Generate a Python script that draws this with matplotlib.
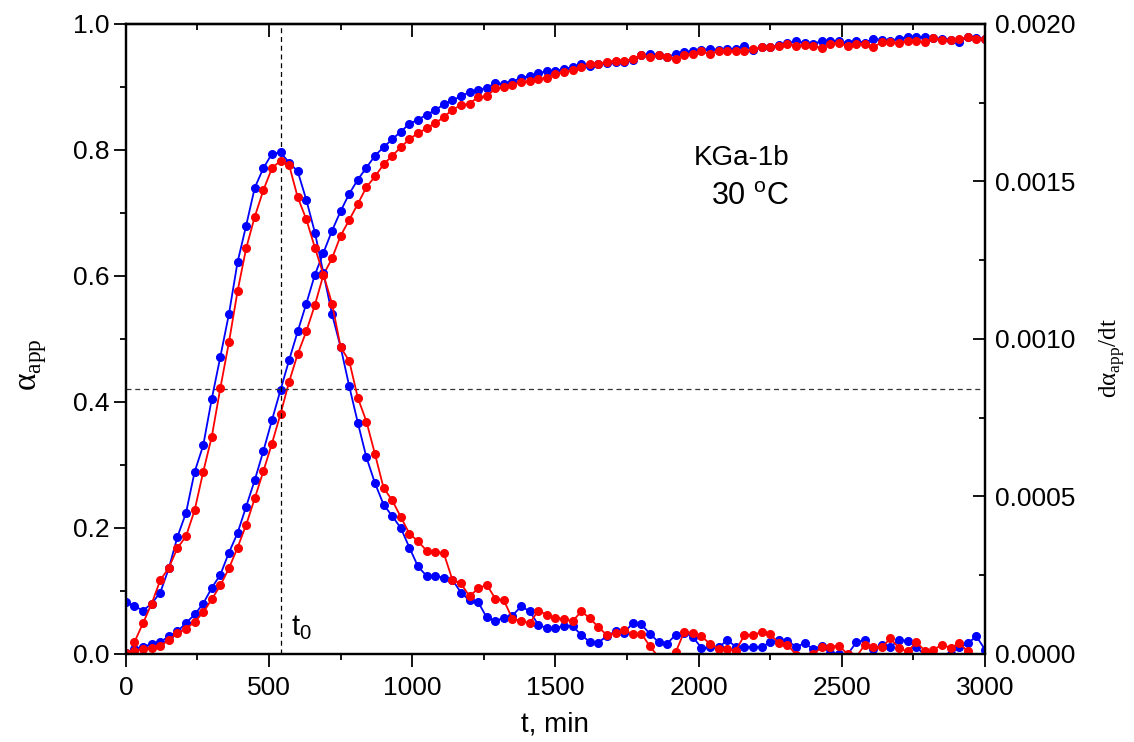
import numpy as np
import matplotlib.pyplot as plt
from matplotlib.ticker import MultipleLocator, FormatStrFormatter

plt.rcParams['font.family'] = ['Liberation Sans', 'DejaVu Sans']
plt.rcParams['mathtext.fontset'] = 'custom'
plt.rcParams['mathtext.rm'] = 'Liberation Serif'
plt.rcParams['mathtext.sf'] = 'Liberation Sans'

# time points, min (every 30 min)
t = np.arange(0, 3001, 30)

# conversion alpha_app, two runs
alpha_blue = [
    0.002, 0.0085, 0.0118, 0.0155, 0.019, 0.028, 0.036, 0.049, 0.0627, 0.080,
    0.105, 0.126, 0.161, 0.192, 0.234, 0.276, 0.322, 0.371, 0.419, 0.4665,
    0.512, 0.556, 0.602, 0.637, 0.672, 0.703, 0.7305, 0.753, 0.772, 0.791,
    0.8045, 0.817, 0.829, 0.8415, 0.848, 0.856, 0.863, 0.8725, 0.879, 0.885,
    0.892, 0.895, 0.899, 0.9056, 0.9046, 0.908, 0.915, 0.917, 0.9217, 0.925,
    0.926, 0.928, 0.932, 0.936, 0.934, 0.936, 0.938, 0.939, 0.940, 0.943,
    0.950, 0.952, 0.951, 0.948, 0.952, 0.956, 0.957, 0.959, 0.960, 0.959,
    0.960, 0.961, 0.9645, 0.959, 0.963, 0.9634, 0.966, 0.970, 0.9725, 0.970,
    0.9687, 0.9725, 0.9735, 0.9725, 0.970, 0.9735, 0.970, 0.9768, 0.974, 0.9735,
    0.9768, 0.9794, 0.979, 0.9797, 0.978, 0.9768, 0.9752, 0.971, 0.980, 0.978,
    0.9768]
alpha_red = [
    0.001, 0.005, 0.0075, 0.010, 0.013, 0.022, 0.033, 0.040, 0.051, 0.066,
    0.087, 0.109, 0.136, 0.169, 0.205, 0.247, 0.290, 0.334, 0.381, 0.432,
    0.476, 0.512, 0.554, 0.602, 0.628, 0.664, 0.689, 0.7145, 0.741, 0.758,
    0.777, 0.791, 0.804, 0.8174, 0.8265, 0.8345, 0.8425, 0.852, 0.864, 0.871,
    0.8736, 0.884, 0.885, 0.8977, 0.900, 0.903, 0.908, 0.909, 0.912, 0.915,
    0.921, 0.923, 0.927, 0.932, 0.936, 0.937, 0.940, 0.942, 0.942, 0.944,
    0.951, 0.947, 0.951, 0.948, 0.945, 0.951, 0.952, 0.9565, 0.952, 0.9575,
    0.9565, 0.9575, 0.9565, 0.960, 0.963, 0.9634, 0.9645, 0.9687, 0.9655, 0.967,
    0.9655, 0.9618, 0.9687, 0.970, 0.9645, 0.968, 0.9687, 0.9634, 0.971, 0.9708,
    0.970, 0.9725, 0.9735, 0.9708, 0.978, 0.9752, 0.974, 0.9768, 0.979, 0.9768,
    0.9768]

# rate d(alpha)/dt in units of 1e-3 1/min
rate_blue = [
    0.165, 0.152, 0.138, 0.160, 0.195, 0.272, 0.372, 0.448, 0.578, 0.662,
    0.810, 0.944, 1.080, 1.244, 1.360, 1.480, 1.542, 1.588, 1.592, 1.560,
    1.532, 1.442, 1.338, 1.208, 1.078, 0.974, 0.850, 0.734, 0.624, 0.542,
    0.474, 0.438, 0.400, 0.338, 0.278, 0.248, 0.248, 0.242, 0.236, 0.195,
    0.170, 0.165, 0.116, 0.106, 0.114, 0.122, 0.151, 0.136, 0.093, 0.082,
    0.082, 0.090, 0.088, 0.061, 0.038, 0.036, 0.058, 0.072, 0.068, 0.098,
    0.094, 0.064, 0.038, 0.033, 0.061, 0.068, 0.054, 0.019, 0.021, 0.021,
    0.044, 0.023, 0.023, 0.021, 0.023, 0.037, 0.044, 0.042, 0.023, 0.034,
    0.016, 0.026, 0.003, 0.000, -0.002, 0.037, 0.044, 0.016, 0.029, 0.023,
    0.044, 0.042, 0.023, -0.004, -0.010, -0.010, 0.000, 0.021, 0.034, 0.056,
    0.014]
rate_red = [
    np.nan, 0.038, 0.098, 0.160, 0.234, 0.274, 0.336, 0.374, 0.456, 0.578,
    0.690, 0.845, 0.990, 1.152, 1.288, 1.388, 1.472, 1.542, 1.566, 1.552,
    1.450, 1.380, 1.290, 1.204, 1.112, 0.974, 0.930, 0.813, 0.738, 0.634,
    0.527, 0.488, 0.435, 0.382, 0.358, 0.328, 0.324, 0.320, 0.236, 0.224,
    0.183, 0.208, 0.220, 0.176, 0.170, 0.111, 0.106, 0.097, 0.138, 0.125,
    0.114, 0.111, 0.104, 0.135, 0.114, 0.085, 0.060, 0.066, 0.076, 0.063,
    0.065, 0.024, -0.010, -0.010, 0.006, 0.071, 0.066, 0.056, 0.032, 0.016,
    0.016, 0.011, 0.060, 0.061, 0.069, 0.063, 0.034, 0.030, -0.002, -0.010,
    0.000, 0.021, 0.023, 0.026, 0.000, -0.010, 0.029, 0.023, 0.021, 0.050,
    0.018, 0.008, 0.037, 0.011, 0.013, 0.030, 0.019, 0.035, 0.008, -0.008,
    -0.008]

t0 = 540
alpha_t0 = 0.42

fig = plt.figure(figsize=(11.34, 7.42), dpi=100)
ax = fig.add_axes([0.111, 0.1186, 0.7576, 0.8491])
ax2 = ax.twinx()

style = dict(marker='o', markersize=5.5, linewidth=1.3)
ax.plot(t, alpha_blue, color='#0000ff', **style)
ax.plot(t, alpha_red, color='#ff0000', **style)
ax2.plot(t, np.array(rate_blue) * 1e-3, color='#0000ff', **style)
ax2.plot(t, np.array(rate_red) * 1e-3, color='#ff0000', **style)

ax.axvline(t0, color='black', linewidth=0.9, dashes=(4, 3))
ax.axhline(alpha_t0, color='#333333', linewidth=0.9, dashes=(4, 3))

ax.set_xlim(0, 3000)
ax.set_ylim(0, 1)
ax2.set_ylim(0, 0.002)

ax.xaxis.set_major_locator(MultipleLocator(500))
ax.xaxis.set_minor_locator(MultipleLocator(250))
ax.yaxis.set_major_locator(MultipleLocator(0.2))
ax.yaxis.set_minor_locator(MultipleLocator(0.1))
ax.yaxis.set_major_formatter(FormatStrFormatter('%.1f'))
ax2.yaxis.set_major_locator(MultipleLocator(0.0005))
ax2.yaxis.set_minor_locator(MultipleLocator(0.00025))
ax2.yaxis.set_major_formatter(FormatStrFormatter('%.4f'))

ax.tick_params(which='both', direction='out', width=1.3, labelsize=19)
ax.tick_params(axis='x', pad=7)
ax.tick_params(axis='y', pad=2.5)
ax.tick_params(which='major', length=9)
ax.tick_params(which='minor', length=4.5)
ax2.tick_params(which='both', direction='in', width=1.3, labelsize=19, pad=7)
ax2.tick_params(which='major', length=9)
ax2.tick_params(which='minor', length=4.5)

top = ax.secondary_xaxis('top')
top.xaxis.set_major_locator(MultipleLocator(500))
top.xaxis.set_minor_locator(MultipleLocator(250))
top.tick_params(which='both', direction='in', width=1.3, labeltop=False)
top.tick_params(which='major', length=9)
top.tick_params(which='minor', length=4.5)

for a in (ax, ax2, top):
    for s in a.spines.values():
        s.set_linewidth(1.6)

ax.set_xlabel('t, min', fontsize=20, labelpad=8)
ax.set_ylabel(r'α$_{\mathrm{app}}$', fontsize=24, family='Liberation Serif')
ax.yaxis.set_label_coords(-0.09, 0.46)
ax2.set_ylabel(r'dα$_{\mathrm{app}}$/dt', fontsize=18, family='Liberation Serif')
ax2.yaxis.set_label_coords(1.131, 0.47)

ax.text(2150, 0.788, 'KGa-1b', fontsize=20, ha='center', va='center')
ax.text(2180, 0.726, r'30 $^{\mathsf{o}}$C', fontsize=22, ha='center', va='center')
ax.text(578, 0.03, r't$_{\mathsf{0}}$', fontsize=21, ha='left', va='baseline')

fig.savefig('out.png', dpi=100)
